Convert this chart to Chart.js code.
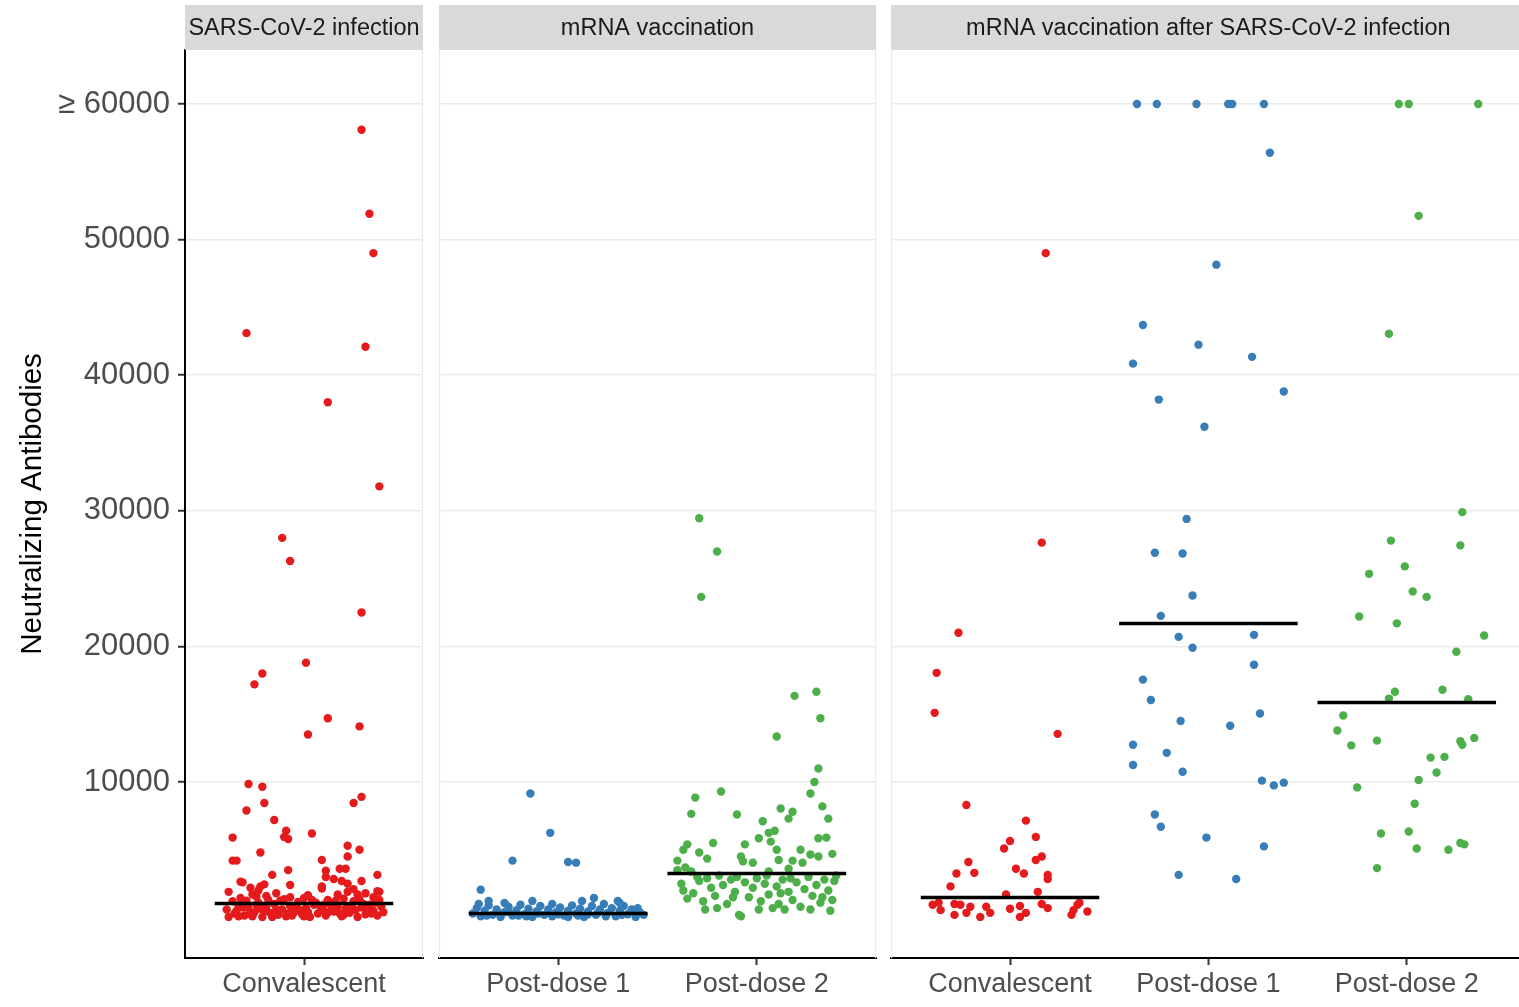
<!DOCTYPE html>
<html><head><meta charset="utf-8">
<script src="https://cdn.jsdelivr.net/npm/chart.js@4.4.1/dist/chart.umd.min.js"></script>
<style>
html,body{margin:0;padding:0;background:#fff;overflow:hidden;width:1519px;height:1007px;position:relative}
canvas{position:absolute;top:0}
</style></head>
<body>
<canvas id="c1" width="431" height="1007" style="left:0px"></canvas>
<canvas id="c2" width="454" height="1007" style="left:431px"></canvas>
<canvas id="c3" width="645" height="1007" style="left:885px"></canvas>
<script>
// ---------- DATA ----------
const panelTitles = ["SARS-CoV-2 infection", "mRNA vaccination", "mRNA vaccination after SARS-CoV-2 infection"];
const panel1Cats = ["Convalescent"];
const panel2Cats = ["Post-dose 1", "Post-dose 2"];
const panel3Cats = ["Convalescent", "Post-dose 1", "Post-dose 2"];
const yTickValues = [10000, 20000, 30000, 40000, 50000, 60000];
const yTickLabels = ["10000", "20000", "30000", "40000", "50000", "\u2265 60000"];
const yTitle = "Neutralizing Antibodies";

// each point: [horizontal jitter in category units, antibody value]
const infConvalescent = [
 [0.29,58100],[0.33,51900],[0.35,49000],[-0.29,43100],[0.31,42100],[0.12,38000],[0.38,31800],[-0.11,28000],
 [-0.07,26300],[0.29,22500],[0.01,18800],[-0.21,18000],[-0.25,17200],[0.12,14700],[0.28,14100],[0.02,13500],
 [-0.28,9850],[-0.21,9650],[0.29,8900],[0.25,8450],[-0.20,8450],[-0.29,7900],[-0.15,7200],[-0.09,6400],
 [-0.10,5950],[-0.08,5800],[0.04,6200],[-0.36,5900],[0.22,5300],[-0.22,4800],[0.28,5000],[0.22,4500],
 [-0.36,4200],[-0.34,4200],[0.09,4250],[-0.08,3500],[0.11,3450],[0.18,3600],[0.21,3600],[-0.16,3150],
 [0.37,3150],[0.11,3000],[0.15,2850],[0.19,2700],[-0.32,2650],[0.29,2700],[-0.07,2400],[0.22,2500],
 [0.09,2300],[-0.38,1900],
 [-0.31,2600],[-0.27,2200],[-0.22,2300],[-0.26,1700],[-0.14,1800],[-0.19,1600],[-0.24,1550],[-0.07,1500],
 [0.02,1650],[0.09,2150],[0.17,1700],[0.22,1900],[0.27,1700],[0.38,1900],[0.37,1950],[0.35,1500],
 [-0.32,1450],[0.00,1450],[0.12,1300],[0.20,1400],[-0.23,2000],[-0.20,2450],[0.25,2100],[0.31,1800],
 [-0.39,600],[-0.35,300],[-0.33,900],[-0.30,150],[-0.28,700],[-0.25,400],[-0.23,1100],[-0.21,50],
 [-0.19,800],[-0.17,350],[-0.15,1000],[-0.13,200],[-0.11,600],[-0.09,100],[-0.07,850],[-0.05,400],
 [-0.03,1150],[-0.01,250],[0.01,700],[0.03,50],[0.05,950],[0.07,300],[0.09,600],[0.11,150],
 [0.13,1050],[0.15,450],[0.17,800],[0.19,100],[0.21,650],[0.23,350],[0.25,1200],[0.27,50],
 [0.29,750],[0.31,250],[0.33,950],[0.35,500],[0.37,150],[0.39,800],[0.40,400],
 [-0.36,1200],[-0.34,500],[-0.29,1250],[-0.26,100],[-0.22,650],[-0.18,1300],[-0.16,50],[-0.12,1250],
 [-0.08,300],[-0.04,700],[0.00,100],[0.04,1300],[0.08,850],[0.12,400],[0.16,1250],[0.20,200],
 [0.24,900],[0.28,1350],[0.32,550],[0.36,1100],[-0.38,50],[-0.31,750],[-0.24,950],[-0.20,450],
 [-0.10,1350],[-0.02,550],[0.06,1100],[0.14,700],[0.26,550],[0.34,300],[0.38,1300],
 [-0.27,250],[-0.14,600],[-0.06,150],[0.10,950],[0.18,300],[0.30,1000],[-0.33,100],[0.02,400]
];
const vacDose1 = [
 [-0.14,9150],[-0.04,6250],[-0.23,4200],[0.05,4100],[0.09,4050],[-0.39,2050],
 [-0.35,1230],[-0.27,1080],[-0.13,1230],[-0.03,1000],[0.12,1230],[0.18,1450],[0.30,1230],[0.31,1080],
 [-0.43,300],[-0.41,700],[-0.39,100],[-0.37,500],[-0.35,900],[-0.33,200],[-0.31,600],[-0.29,50],
 [-0.27,400],[-0.25,800],[-0.23,150],[-0.21,550],[-0.19,950],[-0.17,250],[-0.15,650],[-0.13,50],
 [-0.11,450],[-0.09,850],[-0.07,200],[-0.05,600],[-0.03,100],[-0.01,400],[0.01,750],[0.03,150],
 [0.05,500],[0.07,900],[0.09,300],[0.11,650],[0.13,50],[0.15,450],[0.17,850],[0.19,200],
 [0.21,600],[0.23,1000],[0.25,350],[0.27,700],[0.29,100],[0.31,500],[0.33,850],[0.35,250],
 [0.37,600],[0.39,50],[0.41,400],[0.43,200],
 [-0.40,1000],[-0.30,350],[-0.20,150],[-0.10,300],[0.00,250],[0.10,150],[0.20,350],[0.32,200],
 [0.40,700],[-0.25,450],[0.05,50],[0.24,100],[-0.16,100],[0.15,250],[-0.36,150]
];
const vacDose2 = [
 [-0.29,29450],[-0.20,27000],[-0.28,23650],[0.19,16350],[0.30,16650],[0.32,14700],[0.10,13350],[0.31,11000],
 [0.29,10000],[0.27,9150],[-0.31,8850],[-0.18,9300],[0.33,8200],[-0.33,7650],[-0.10,7600],[0.12,8050],
 [0.18,7800],[0.16,7300],[0.36,7300],[0.03,7100],[0.09,6400],[0.06,6250],[0.01,5850],[0.31,5850],
 [0.35,5900],[-0.22,5500],[-0.06,5400],[0.07,5600],[-0.35,5400],[-0.37,5000],[0.10,5000],[0.22,5000],
 [-0.29,4800],[-0.25,4350],[0.38,4700],[0.27,4650],[0.31,4500],[-0.08,4500],[-0.07,4150],[-0.02,4050],
 [0.11,4250],[0.18,4200],[0.23,4050],[-0.40,4200],[0.06,3400],[0.16,3600],
 [-0.40,3500],[-0.36,3700],[-0.33,3400],[-0.30,3000],[-0.38,2500],[-0.35,1400],[-0.32,1800],[-0.29,2700],
 [-0.27,1200],[-0.25,2900],[-0.23,2200],[-0.21,1600],[-0.19,3100],[-0.17,2400],[-0.15,1000],[-0.13,2800],
 [-0.11,1900],[-0.09,200],[-0.08,100],[-0.06,2600],[-0.04,1500],[-0.02,2200],[0.00,2900],[0.02,1200],
 [0.04,2500],[0.06,1700],[0.08,700],[0.10,2300],[0.11,1000],[0.13,2800],[0.14,600],[0.16,1900],
 [0.18,1300],[0.20,2600],[0.22,800],[0.24,2100],[0.26,3000],[0.28,1600],[0.30,2400],[0.32,1100],
 [0.34,2800],[0.36,2000],[0.37,500],[0.38,1300],[0.39,2700],[0.40,3100],[-0.10,3000],[0.05,3100],
 [0.17,2900],[-0.26,600],[-0.12,1500],[0.12,1800],[0.27,600],[0.33,1500],[-0.37,2000],[-0.20,700],[0.01,600]
];
const hybConvalescent = [
 [0.18,49000],[0.16,27650],[-0.26,21000],[-0.37,18050],[-0.38,15100],[0.24,13550],[-0.22,8300],[0.08,7150],
 [0.13,5950],[0.00,5650],[-0.03,5100],[0.16,4500],[0.13,4250],[-0.21,4100],[0.03,3600],[-0.18,3300],
 [-0.27,3250],[0.07,3250],[0.19,3150],[0.19,2850],[-0.30,2300],[0.14,1900],[-0.02,1700],
 [-0.39,950],[-0.36,1100],[-0.35,550],[-0.28,1000],[-0.25,950],[-0.22,350],[-0.20,800],[-0.28,200],
 [-0.15,50],[-0.12,800],[-0.10,350],[0.00,650],[0.05,850],[0.08,350],[0.05,50],[0.16,1000],
 [0.19,700],[0.31,200],[0.32,550],[0.34,950],[0.35,1100],[0.39,450]
];
const hybDose1 = [
 [-0.36,60000],[-0.26,60000],[-0.06,60000],[0.10,60000],[0.12,60000],[0.28,60000],
 [0.31,56400],[0.04,48150],[-0.33,43700],[-0.05,42250],[-0.38,40850],[0.22,41350],[-0.25,38200],[0.38,38800],
 [-0.02,36200],[-0.11,29400],[-0.27,26900],[-0.13,26850],[-0.08,23750],[-0.24,22250],[-0.15,20700],[-0.08,19900],
 [0.23,20850],[-0.33,17550],[0.23,18650],[-0.29,16050],[-0.14,14500],[0.11,14150],[0.26,15050],[-0.38,12750],
 [-0.38,11250],[-0.21,12150],[-0.13,10750],[0.27,10100],[0.33,9750],[0.38,9950],[-0.27,7600],[-0.24,6700],
 [-0.01,5900],[0.28,5250],[-0.15,3150],[0.14,2850]
];
const hybDose2 = [
 [-0.04,60000],[0.01,60000],[0.36,60000],[0.06,51750],[-0.09,43050],[0.28,29900],[-0.08,27800],[0.27,27450],
 [-0.19,25350],[-0.01,25900],[0.03,24050],[0.10,23650],[-0.24,22200],[-0.05,21700],[0.39,20800],[0.25,19600],
 [-0.06,16650],[0.18,16800],[-0.09,16150],[0.31,16100],[-0.32,14900],[-0.35,13800],[-0.28,12700],[-0.15,13050],
 [0.34,13250],[0.27,13000],[0.28,12750],[0.12,11800],[0.19,11850],[0.15,10700],[0.06,10150],[-0.25,9600],
 [0.04,8400],[-0.13,6200],[0.01,6350],[0.27,5500],[0.29,5400],[0.05,5100],[0.21,5000],[-0.15,3650]
];
const panel1Medians = [1030];
const panel2Medians = [300, 3250];
const panel3Medians = [1480, 21680, 15860];

// ---------- STYLE ----------
const RED = '#e41a1c', BLUE = '#377eb8', GREEN = '#4daf4a';
const FONT = '"Liberation Sans", Arial, Helvetica, sans-serif';
const Y_MIN = -2980, Y_MAX = 63980;

const stripPlugin = {
  id: 'strip',
  beforeDatasetsDraw(chart, args, opts) {
    const {ctx, chartArea: a} = chart;
    ctx.save();
    ctx.strokeStyle = '#ebebeb';
    ctx.lineWidth = 1.2;
    ctx.beginPath();
    if (!opts.hasAxis) { ctx.moveTo(a.left + 0.5, a.bottom); ctx.lineTo(a.left + 0.5, a.top); }
    ctx.moveTo(a.right - 0.5, a.top); ctx.lineTo(a.right - 0.5, a.bottom);
    ctx.stroke();
    ctx.restore();
  },
  afterDraw(chart, args, opts) {
    const {ctx, chartArea: a} = chart;
    ctx.save();
    ctx.fillStyle = '#d9d9d9';
    ctx.fillRect(a.left, 5, a.right - a.left, a.top - 5);
    ctx.fillStyle = '#1a1a1a';
    ctx.font = '23.5px ' + FONT;
    ctx.textAlign = 'center';
    ctx.textBaseline = 'middle';
    ctx.fillText(opts.title, (a.left + a.right) / 2, (5 + a.top) / 2 + 1);
    ctx.restore();
  }
};

function buildChart(id, title, cats, groups, colors, medians, pad, hasAxis) {
  const datasets = [];
  medians.forEach((m, i) => {
    datasets.push({
      type: 'line', order: 0,
      data: [{x: i - 0.45, y: m}, {x: i + 0.45, y: m}],
      borderColor: '#000', borderWidth: 3.5, pointRadius: 0, fill: false
    });
  });
  groups.forEach((g, i) => {
    datasets.push({
      type: 'scatter', order: 1,
      data: g.map(p => ({x: i + p[0], y: p[1]})),
      backgroundColor: colors[i], borderWidth: 0, pointRadius: 4.2, pointHoverRadius: 4.2
    });
  });
  const yScale = {
    type: 'linear', min: Y_MIN, max: Y_MAX,
    afterBuildTicks: s => { s.ticks = yTickValues.map(v => ({value: v})); },
    afterFit: s => { s.width = hasAxis ? 185 : 0; },
    grid: {color: '#ebebeb', lineWidth: 1.5, drawTicks: hasAxis, tickLength: 7, tickColor: '#333', tickWidth: 2},
    border: {display: hasAxis, color: '#000', width: 2},
    ticks: {
      display: hasAxis, padding: 8, color: '#4d4d4d',
      font: {family: FONT, size: 31},
      callback: v => yTickLabels[yTickValues.indexOf(v)]
    },
    title: {
      display: hasAxis, text: yTitle, color: '#000',
      font: {family: FONT, size: 29.5}, padding: {top: 15, bottom: 0}
    }
  };
  const xScale = {
    type: 'linear', min: -0.6, max: cats.length - 0.4,
    afterBuildTicks: s => { s.ticks = cats.map((c, i) => ({value: i})); },
    afterFit: s => { s.height = 49; },
    grid: {drawOnChartArea: false, drawTicks: true, tickLength: 7, color: '#333', tickColor: '#333', tickWidth: 2},
    border: {display: true, color: '#000', width: 2},
    ticks: {
      autoSkip: false, maxRotation: 0, padding: 3, color: '#4d4d4d',
      font: {family: FONT, size: 27},
      callback: v => cats[v]
    }
  };
  return new Chart(document.getElementById(id), {
    type: 'scatter',
    data: {datasets},
    options: {
      responsive: false, animation: false, events: [],
      layout: {padding: pad},
      plugins: {legend: {display: false}, tooltip: {enabled: false}, strip: {title, hasAxis}},
      scales: {x: xScale, y: yScale}
    },
    plugins: [stripPlugin]
  });
}

buildChart('c1', panelTitles[0], panel1Cats, [infConvalescent], [RED], panel1Medians,
  {top: 50, left: 0, right: 8, bottom: 0}, true);
buildChart('c2', panelTitles[1], panel2Cats, [vacDose1, vacDose2], [BLUE, GREEN], panel2Medians,
  {top: 50, left: 8, right: 9, bottom: 0}, false);
buildChart('c3', panelTitles[2], panel3Cats, [hybConvalescent, hybDose1, hybDose2], [RED, BLUE, GREEN], panel3Medians,
  {top: 50, left: 6, right: 0, bottom: 0}, false);
</script>
</body></html>
